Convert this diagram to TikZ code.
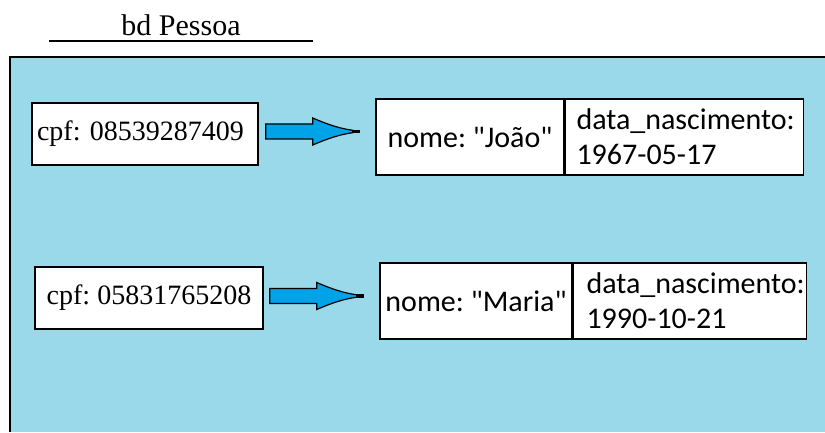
\documentclass[tikz,border=0pt]{standalone}
\usepackage{fontspec}
\setmainfont{Liberation Serif}
\newfontfamily\calibfont{Carlito}
\usetikzlibrary{calc}
\definecolor{bgblue}{HTML}{99D9EA}
\definecolor{arrowblue}{HTML}{00A2E8}
\frenchspacing
\tikzset{
  cpfbox/.style={draw, fill=white, line width=1.5pt, minimum height=62, inner sep=0pt,
    font=\frenchspacing\fontsize{28}{31}\selectfont},
  cell/.style={draw, fill=white, line width=1.5pt, minimum height=76, inner sep=0pt,
    font=\frenchspacing\calibfont\fontsize{30}{35}\selectfont},
  blockarrow/.pic={
    \filldraw[fill=arrowblue, draw=black, line width=1.2pt]
      (0,-7.5) -- (47,-7.5) -- (47,-13.5)
      .. controls (62,-7) and (74,-3) .. (87,-1.2) -- (87,1.2)
      .. controls (74,3) and (62,7) .. (47,13.5) -- (47,7.5) -- (0,7.5) -- cycle;
    \draw[line width=3.4pt] (86,0) -- (94,0);
  }
}
\begin{document}
\begin{tikzpicture}[x=1pt,y=1pt]
\useasboundingbox (0,0) rectangle (825,432);
% frame
\fill[bgblue] (10,0) rectangle (825,375);
\draw[line width=2pt] (10,0) -- (10,375) -- (825,375);
% title
\node[font=\fontsize{30}{33}\selectfont, anchor=base, inner sep=0pt] (title) at (181,396) {bd Pessoa};
\coordinate (ulA) at (49,391);
\coordinate (ulB) at (313,391);
\draw[line width=1.5pt] (ulA) -- (ulB);
% keys
\node[cpfbox, minimum width=226, text width=216, align=left] (cpf1) at (145,298) {cpf: 08539287409};
\node[cpfbox, minimum width=228] (cpf2) at (149,134) {cpf: 05831765208};
% records
\node[cell, minimum width=188] (nome1) at (470,295) {nome: "João"};
\node[cell, minimum width=238, text width=216, align=left, anchor=west] (data1) at (nome1.east) {data\_nascimento:\\1967-05-17};
\node[cell, minimum width=192] (nome2) at (476,131) {nome: "Maria"};
\node[cell, minimum width=233, text width=207, align=left, anchor=west] (data2) at (nome2.east) {data\_nascimento:\\1990-10-21};
% arrows
\pic at ($(cpf1.east)+(7,2.5)$) {blockarrow};
\pic at ($(cpf2.east)+(6,2)$) {blockarrow};
\end{tikzpicture}
\end{document}
